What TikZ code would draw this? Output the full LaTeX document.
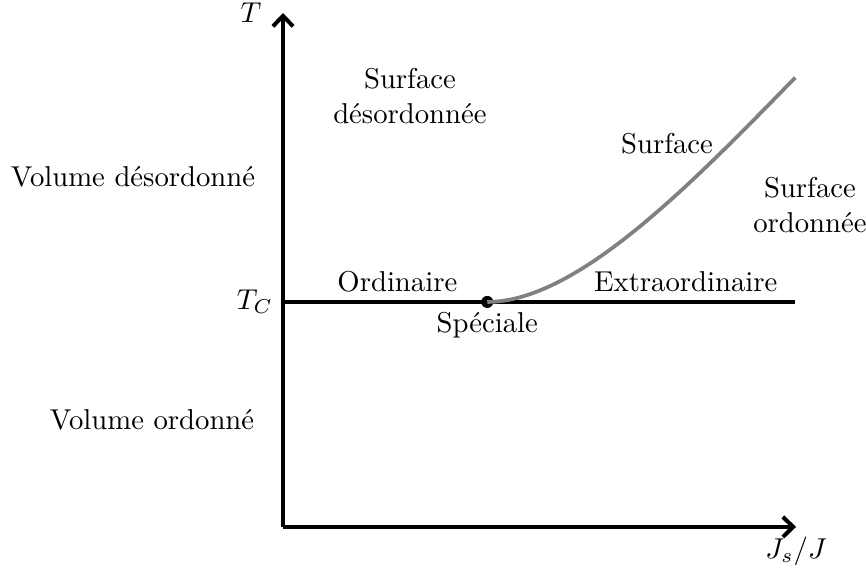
\documentclass[tikz,border=0pt]{standalone}
\usepackage{amsmath}
\usepackage{tikz}
\usetikzlibrary{arrows.meta,positioning,calc}

\begin{document}
\begin{tikzpicture}[
    axe/.style={line width=1.4pt, -{Straight Barb[length=3.6pt,width=7pt,line width=1.4pt]}},
    crit/.style={line width=1.4pt},
    surf/.style={line width=1.3pt, draw=gray},
    dot/.style={circle, fill=black, inner sep=0pt, minimum size=4.2pt},
    lbl/.style={align=center, font=\normalsize}
]
    \useasboundingbox (-3.464,-0.575) rectangle (7.136,6.450);

    \coordinate (O) at (0,0);
    \coordinate (xend) at (6.28,0);
    \coordinate (yend) at (0,6.29);
    \coordinate (tc) at (0,2.754);
    \coordinate (tcend) at (6.27,2.754);
    \coordinate (cend) at (6.27,5.50);
    \node [dot] (sp) at (2.5,2.754) {};

    % axes
    \draw [axe] (O) -- (xend);
    \draw [axe] (O) -- (yend);
    \node [left=4pt] (tlab) at (yend) {$T$};
    \node [below] (jlab) at (xend) {$J_s/J$};

    % transitions
    \draw [crit] (tc) -- (tcend);
    \draw [surf] (sp.center) .. controls (3.6,2.754) and (5.0,4.2) .. (cend);
    \node [left] (tclab) at (tc) {$T_C$};
    \node [below] (spec) at (sp.center) {Sp\'eciale};
    \node [above] (ord) at (1.4,2.754) {Ordinaire};
    \node [above] (extra) at (4.93,2.754) {Extraordinaire};

    % regions
    \node [lbl] (vdes) at (-1.836,4.284) {Volume d\'esordonn\'e};
    \node [lbl] (vord) at (-1.603,1.31) {Volume ordonn\'e};
    \node [lbl] (sdes) at (1.554,5.275) {Surface\\d\'esordonn\'ee};
    \node [lbl] (surf) at (4.70,4.688) {Surface};
    \node [lbl] (sord) at (6.45,3.94) {Surface\\ordonn\'ee};
\end{tikzpicture}
\end{document}
